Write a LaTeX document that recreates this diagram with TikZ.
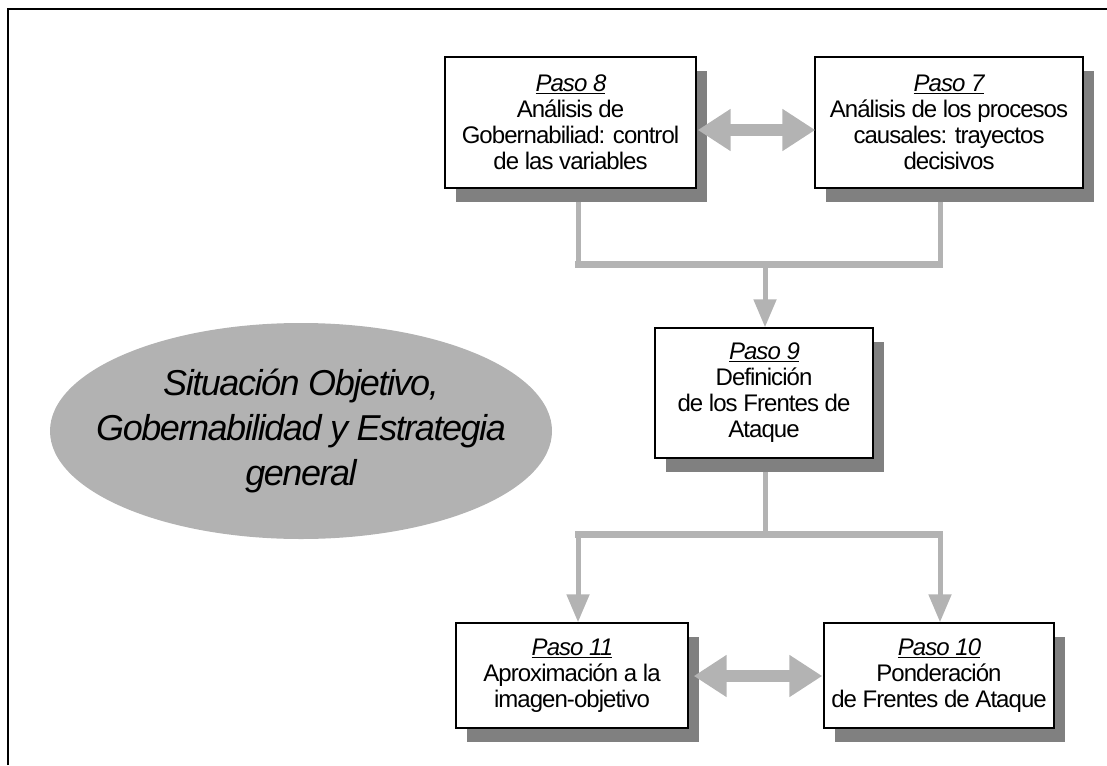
\documentclass[tikz,border=0pt]{standalone}
\usepackage{fontspec}
\setmainfont{Liberation Sans}
\newfontfamily\tightsans[LetterSpace=-4]{Liberation Sans}
\usetikzlibrary{arrows.meta,shapes.geometric,shadows,backgrounds,calc}

\definecolor{linkgray}{HTML}{B3B3B3}
\definecolor{shadegray}{HTML}{808080}
\definecolor{ovalgray}{HTML}{B2B2B2}

\newcommand{\paso}[1]{\underline{\textit{#1}}}

\tikzset{
  stepbox/.style={draw=black, line width=1.4pt, fill=white, align=center,
    inner sep=0pt, font=\tightsans\fontsize{24}{26}\selectfont,
    general shadow={fill=shadegray, shadow xshift=10.5pt, shadow yshift=-14pt}},
  theme/.style={ellipse, fill=ovalgray, draw=none, inner sep=0pt},
  themetext/.style={align=center, inner sep=0pt,
    font=\tightsans\fontsize{36}{45}\selectfont\itshape},
  feeder/.style={draw=linkgray, line width=5pt},
  bar/.style={draw=linkgray, line width=7pt},
  downarrow/.style={draw=linkgray, line width=5pt,
    -{Triangle[width=22pt,length=28pt,fill=linkgray]}},
  twoway/.style={draw=linkgray, line width=12pt,
    {Triangle[width=40pt,length=33pt,fill=linkgray]}-{Triangle[width=40pt,length=33pt,fill=linkgray]}},
}

\begin{document}
\begin{tikzpicture}[x=1pt, y=-1pt]
  \useasboundingbox (0,0) rectangle (1107,765);

  % page frame (open to the right and bottom)
  \draw[line width=2.2pt] (8,765) -- (8,9) -- (1107,9);

  % central theme
  \node[theme, minimum width=502pt, minimum height=216pt] (tema) at (301,431) {};
  \node[themetext] (tematxt) at (301,431)
    {Situación Objetivo,\\Gobernabilidad y Estrategia\\general};

  % steps
  \node[stepbox, minimum width=251pt, minimum height=131pt] (p8) at (570.5,122.5)
    {\paso{Paso 8}\\Análisis de\\Gobernabiliad: control\\de las variables};
  \node[stepbox, minimum width=268pt, minimum height=131pt] (p7) at (949,122.5)
    {\paso{Paso 7}\\Análisis de los procesos\\causales: trayectos\\decisivos};
  \node[stepbox, minimum width=218pt, minimum height=130pt] (p9) at (764,393)
    {\paso{Paso 9}\\Definición\\de los Frentes de\\Ataque};
  \node[stepbox, minimum width=232pt, minimum height=105pt] (p11) at (572,675.5)
    {\paso{Paso 11}\\Aproximación a la\\imagen-objetivo};
  \node[stepbox, minimum width=230pt, minimum height=105pt] (p10) at (939,675.5)
    {\paso{Paso 10}\\Ponderación\\de Frentes de Ataque};

  % junction points of the two bars
  \coordinate (aL) at (578,264);
  \coordinate (aM) at (765,264);
  \coordinate (aR) at (940,264);
  \coordinate (bL) at (578,534);
  \coordinate (bM) at (765,534);
  \coordinate (bR) at (940,534);

  \begin{scope}[on background layer]
    % steps 8 and 7 merge into step 9
    \draw[feeder] (p8.south -| aL) -- (aL);
    \draw[feeder] (p7.south -| aR) -- (aR);
    \draw[bar] ([xshift=-3pt]aL) -- ([xshift=3pt]aR);
    \draw[downarrow] (aM) -- (p9.north -| aM);
    % step 9 splits into steps 11 and 10
    \draw[feeder] (p9.south -| bM) -- (bM);
    \draw[bar] ([xshift=-3pt]bL) -- ([xshift=3pt]bR);
    \draw[downarrow] (bL) -- (p11.north -| bL);
    \draw[downarrow] (bR) -- (p10.north -| bR);
  \end{scope}

  % two-way links
  \draw[twoway] ($(p8.east)+(1,7.5)$) -- ($(p7.west)+(1,7.5)$);
  \draw[twoway] ($(p11.east)+(5,0.5)$) -- ($(p10.west)+(-1,0.5)$);
\end{tikzpicture}
\end{document}
